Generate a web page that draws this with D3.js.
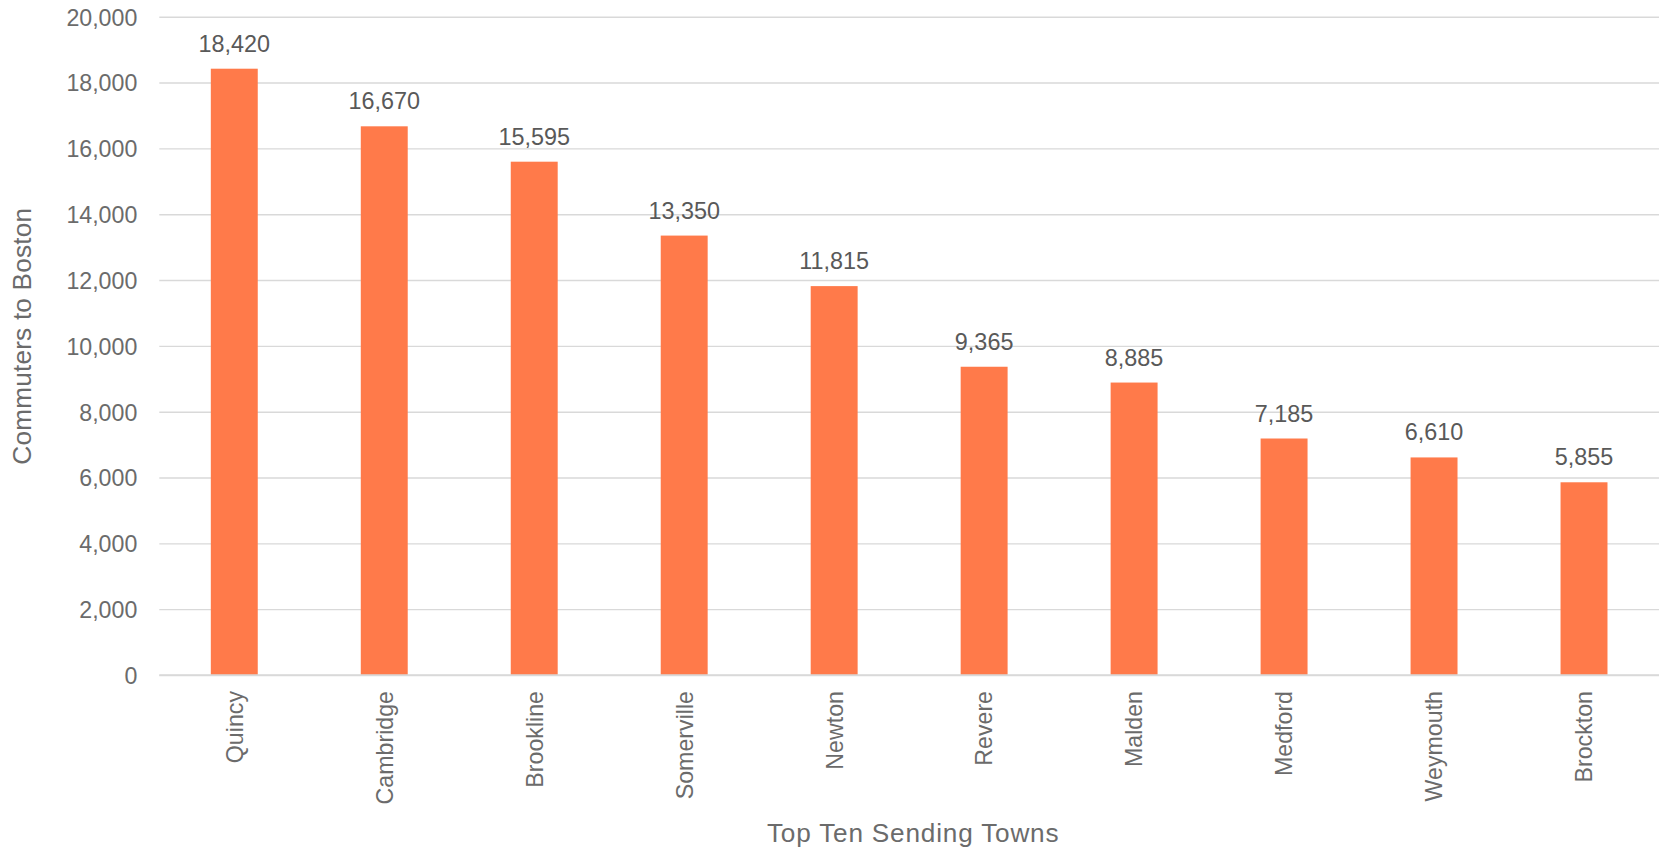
<!DOCTYPE html>
<html>
<head>
<meta charset="utf-8">
<script src="https://cdn.jsdelivr.net/npm/d3@7"></script>
<style>
  html, body { margin: 0; padding: 0; background: #fff; }
  svg { display: block; }
  text { font-family: "Liberation Sans", Arial, sans-serif; }
</style>
</head>
<body>
<svg id="chart" width="1661" height="849"></svg>
<script>
const towns = ["Quincy", "Cambridge", "Brookline", "Somerville", "Newton", "Revere", "Malden", "Medford", "Weymouth", "Brockton"];
const commuters = [18420, 16670, 15595, 13350, 11815, 9365, 8885, 7185, 6610, 5855];
const yTicks = [0, 2000, 4000, 6000, 8000, 10000, 12000, 14000, 16000, 18000, 20000];
const xTitle = "Top Ten Sending Towns";
const yTitle = "Commuters to Boston";

(function () {
const svg = d3.select("#chart");
const mLeft = 159.3, mRight = 1659, mTop = 16.7, mBottom = 675;
const fmt = d3.format(",");

const x = d3.scaleBand().domain(towns).range([mLeft, mRight]).paddingInner(0.687).paddingOuter(0.3435);
const y = d3.scaleLinear().domain([0, 20000]).range([mBottom, mTop]);

// gridlines
const yAxis = d3.axisLeft(y).tickValues(yTicks).tickSize(-(mRight - mLeft)).tickFormat(fmt).tickPadding(22);
const gy = svg.append("g").attr("transform", `translate(${mLeft},0)`).call(yAxis);
gy.select(".domain").remove();
gy.selectAll(".tick line").attr("stroke", "#d9d9d9").attr("stroke-width", 1.4);
gy.selectAll(".tick text").attr("fill", "#6b6b6b").attr("font-size", "23.2px").attr("dy", "0.36em")
  .attr("font-family", "'Liberation Sans', Arial, sans-serif");

// bars
svg.append("g").selectAll("rect").data(towns).join("rect")
  .attr("x", d => x(d))
  .attr("width", x.bandwidth())
  .attr("y", (d, i) => y(commuters[i]))
  .attr("height", (d, i) => mBottom - y(commuters[i]))
  .attr("fill", "#ff7a4a");

// redraw zero line over bars
svg.append("line").attr("x1", mLeft).attr("x2", mRight).attr("y1", y(0)).attr("y2", y(0))
  .attr("stroke", "#d9d9d9").attr("stroke-width", 1.4);

// data labels
svg.append("g").selectAll("text").data(towns).join("text")
  .attr("x", d => x(d) + x.bandwidth() / 2)
  .attr("y", (d, i) => y(commuters[i]) - 17)
  .attr("text-anchor", "middle")
  .attr("fill", "#595959")
  .attr("font-size", "23.4px")
  .text((d, i) => fmt(commuters[i]));

// x axis labels
const xAxis = d3.axisBottom(x).tickSize(0).tickPadding(0);
const gx = svg.append("g").attr("transform", `translate(0,${mBottom})`).call(xAxis);
gx.select(".domain").remove();
gx.selectAll(".tick text")
  .attr("fill", "#6b6b6b")
  .attr("font-size", "23.2px")
  .attr("font-family", "'Liberation Sans', Arial, sans-serif")
  .attr("text-anchor", "end")
  .attr("transform", "rotate(-90)")
  .attr("x", -16)
  .attr("y", 0)
  .attr("dy", "0.36em");

// axis titles
svg.append("text")
  .attr("x", (mLeft + mRight) / 2 + 4)
  .attr("y", 841.5)
  .attr("text-anchor", "middle")
  .attr("fill", "#6b6b6b")
  .attr("font-size", "26.2px")
  .attr("letter-spacing", "0.8px")
  .text(xTitle);

svg.append("text")
  .attr("transform", "translate(31,336.2) rotate(-90)")
  .attr("text-anchor", "middle")
  .attr("fill", "#6b6b6b")
  .attr("font-size", "26.2px")
  .attr("letter-spacing", "0.2px")
  .text(yTitle);
})();
</script>
</body>
</html>
